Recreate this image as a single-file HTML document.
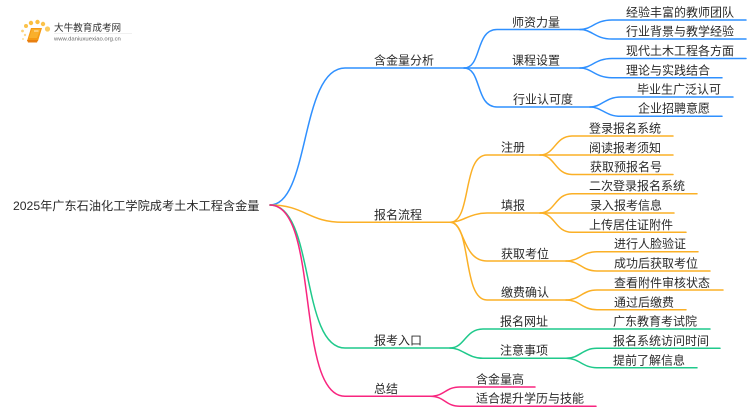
<!DOCTYPE html>
<html><head><meta charset="utf-8">
<style>
html,body{margin:0;padding:0;background:#fff;width:750px;height:410px;overflow:hidden}
svg{display:block;filter:blur(.3px)}
text{font-family:"Liberation Sans","Noto Sans CJK SC",sans-serif;font-size:12px;fill:#2a2a2a}
path{fill:none;stroke-width:1.5;stroke-linecap:round}
.b path{stroke:#2f90ff}.o path{stroke:#fbb026}.g path{stroke:#1fc98b}.p path{stroke:#f8257f}
</style></head><body>
<svg width="750" height="410" viewBox="0 0 750 410" xmlns="http://www.w3.org/2000/svg">
<g class="b">
<path d="M270 205C310 205 300 68 345 68H464"/>
<path d="M464 68C482 68 475 29.5 497 29.5H580"/>
<path d="M464 68H580"/>
<path d="M464 68C482 68 475 107 497 107H590"/>
<path d="M580 29.5C592 29.5 595 20 612 20H746"/>
<path d="M580 29.5C592 29.5 595 39 612 39H746"/>
<path d="M580 68C592 68 595 58.5 612 58.5H746"/>
<path d="M580 68C592 68 595 77.7 612 77.7H722"/>
<path d="M590 107C602 107 605 97 621 97H733"/>
<path d="M590 107C602 107 605 116.3 621 116.3H722"/>
</g>
<g class="o">
<path d="M270 205C305 205 308 222.3 343 222.3H450"/>
<path d="M450 222.3C472 222.3 462 155 487 155H540"/>
<path d="M450 222.3C462 222.3 470 213 487 213H540"/>
<path d="M450 222.3C465 222.3 462 261 487 261H566"/>
<path d="M450 222.3C472 222.3 462 300 487 300H566"/>
<path d="M540 155C555 155 555 136 572 136H673"/>
<path d="M540 155H673"/>
<path d="M540 155C555 155 555 174.5 572 174.5H673"/>
<path d="M540 213C555 213 555 193.7 572 193.7H697"/>
<path d="M540 213H674"/>
<path d="M540 213C555 213 555 232.3 572 232.3H686"/>
<path d="M566 261C580 261 582 251.7 597 251.7H698"/>
<path d="M566 261C580 261 582 271 597 271H710"/>
<path d="M566 300C580 300 582 290 597 290H723"/>
<path d="M566 300C580 300 582 309.7 597 309.7H686"/>
</g>
<g class="g">
<path d="M270 205C315 205 300 348 345 348H450"/>
<path d="M450 348C465 348 465 329 483 329H710"/>
<path d="M450 348C462 348 468 358.3 483 358.3H566"/>
<path d="M566 358.3C580 358.3 582 348.3 597 348.3H720"/>
<path d="M566 358.3C580 358.3 582 367.7 597 367.7H697"/>
</g>
<g class="p">
<path d="M270 205C320 205 295 396.3 345 396.3H430"/>
<path d="M430 396.3C445 396.3 445 387 460 387H535"/>
<path d="M430 396.3C445 396.3 445 406.3 460 406.3H596"/>
</g>

<text x="13" y="210" style="font-size:12.2px">2025年广东石油化工学院成考土木工程含金量</text>
<text x="374" y="64.5">含金量分析</text>
<text x="512" y="26.5">师资力量</text>
<text x="512" y="64.5">课程设置</text>
<text x="513" y="103.5">行业认可度</text>
<text x="626" y="16.5">经验丰富的教师团队</text>
<text x="626" y="35.5">行业背景与教学经验</text>
<text x="626" y="55">现代土木工程各方面</text>
<text x="626" y="74.5">理论与实践结合</text>
<text x="637" y="93.5">毕业生广泛认可</text>
<text x="638" y="112.5">企业招聘意愿</text>
<text x="374" y="219">报名流程</text>
<text x="501" y="151.5">注册</text>
<text x="589" y="132.5">登录报名系统</text>
<text x="589" y="152">阅读报考须知</text>
<text x="590" y="171">获取预报名号</text>
<text x="501" y="209.5">填报</text>
<text x="589" y="190">二次登录报名系统</text>
<text x="590" y="209.5">录入报考信息</text>
<text x="589" y="229">上传居住证附件</text>
<text x="501" y="258">获取考位</text>
<text x="614" y="248">进行人脸验证</text>
<text x="614" y="267.5">成功后获取考位</text>
<text x="501" y="296.5">缴费确认</text>
<text x="614" y="287">查看附件审核状态</text>
<text x="614" y="306.5">通过后缴费</text>
<text x="374" y="344.5">报考入口</text>
<text x="500" y="325.5">报名网址</text>
<text x="613" y="325.5">广东教育考试院</text>
<text x="500" y="354.5">注意事项</text>
<text x="613" y="345">报名系统访问时间</text>
<text x="613" y="364.5">提前了解信息</text>
<text x="374" y="393">总结</text>
<text x="476" y="383.5">含金量高</text>
<text x="476" y="402.5">适合提升学历与技能</text>

<g>
<circle cx="26" cy="26" r="2" fill="#fbc24a"/>
<circle cx="22.5" cy="31" r="1.4" fill="#fbd27a"/>
<circle cx="25" cy="35" r="1.2" fill="#fdd98c"/>
<circle cx="23" cy="39" r="1" fill="#fde0a0"/>
<circle cx="31" cy="23" r="2.2" fill="#fbbf40"/>
<circle cx="37.5" cy="22" r="2.2" fill="#fbbf40"/>
<circle cx="43" cy="24" r="2.2" fill="#fbc24a"/>
<circle cx="47.5" cy="29" r="2.6" fill="#fbcb60"/>
<polygon points="31,28 42,28 38,41 27,41" fill="#f59a14"/>
<polygon points="32,29 40.5,29 37,38 29,38" fill="#f9b02c"/>
<line x1="34" y1="31" x2="38.5" y2="31" stroke="#fff" stroke-width=".7"/>
<polygon points="27,40 38,40 37,42.5 28,42.5" fill="#e87f10"/>
<text x="54" y="31" style="font-size:9.6px;fill:#333">大牛教育成考网</text>
<text x="54" y="40.5" style="font-size:5.9px;fill:#666">www.daniuxuexiao.org.cn</text>
<rect x="54" y="33" width="78" height=".6" fill="#e6e6e6"/>
</g>
</svg>
</body></html>
